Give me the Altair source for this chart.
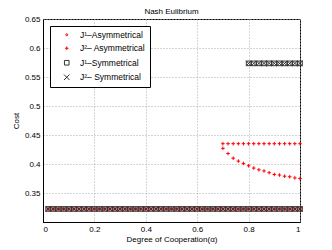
import altair as alt
import pandas as pd

# degree of cooperation grids (step 0.02)
alpha_all = [round(0.02 * i, 2) for i in range(1, 51)]
alpha_asym_hi = [0.70, 0.72, 0.74, 0.76, 0.78, 0.80, 0.82, 0.84,
                 0.86, 0.88, 0.90, 0.92, 0.94, 0.96, 0.98, 1.00]
alpha_sym_hi = [0.80, 0.82, 0.84, 0.86, 0.88, 0.90, 0.92, 0.94, 0.96, 0.98, 1.00]

base_cost = 0.3225
asym_upper = [0.435] * len(alpha_asym_hi)
asym_lower = [0.427, 0.418, 0.410, 0.405, 0.401, 0.397, 0.393, 0.390,
              0.388, 0.385, 0.382, 0.381, 0.379, 0.378, 0.376, 0.375]
sym_upper = [0.5735] * len(alpha_sym_hi)

series = ["J\u00b9\u2013Asymmetrical", "J\u00b2\u2013 Asymmetrical",
          "J\u00b9\u2013Symmetrical", "J\u00b2\u2013 Symmetrical"]
title_text = ["Nash Eulibrium"]

rows = []
for a in alpha_all:
    rows.append((a, base_cost, series[0]))
for a in alpha_all:
    rows.append((a, base_cost, series[1]))
for a, c in zip(alpha_asym_hi, asym_upper):
    rows.append((a, c, series[1]))
for a, c in zip(alpha_asym_hi, asym_lower):
    rows.append((a, c, series[1]))
for a in alpha_all:
    rows.append((a, base_cost, series[2]))
for a, c in zip(alpha_sym_hi, sym_upper):
    rows.append((a, c, series[2]))
for a in alpha_all:
    rows.append((a, base_cost, series[3]))
for a, c in zip(alpha_sym_hi, sym_upper):
    rows.append((a, c, series[3]))

df = pd.DataFrame(rows, columns=["alpha", "cost", "series"])
df["ord"] = range(len(df))

plus = "M-1,0L1,0M0,-1L0,1"
cross = "M-1,-1L1,1M-1,1L1,-1"

points = alt.Chart(df).mark_point(filled=False, strokeWidth=1, opacity=1).encode(
    x=alt.X("alpha:Q", title="Degree of Cooperation(\u03b1)",
            scale=alt.Scale(domain=[0, 1], nice=False),
            axis=alt.Axis(values=[0, 0.2, 0.4, 0.6, 0.8, 1], format="~g")),
    y=alt.Y("cost:Q", title="Cost",
            scale=alt.Scale(domain=[0.3, 0.65], nice=False, zero=False),
            axis=alt.Axis(values=[0.35, 0.4, 0.45, 0.5, 0.55, 0.6, 0.65], format="~g")),
    color=alt.Color("series:N", scale=alt.Scale(domain=series,
                    range=["#ff0000", "#ff0000", "#333333", "#333333"]),
                    legend=alt.Legend(title=None, orient="none", legendX=7, legendY=7)),
    shape=alt.Shape("series:N", scale=alt.Scale(domain=series,
                    range=["circle", plus, "square", cross])),
    size=alt.Size("series:N", scale=alt.Scale(domain=series, range=[4, 30, 16, 14])),
    order="ord:Q",
)

title = alt.Chart(pd.DataFrame({"t": title_text})).mark_text(
    fontSize=8, font="Liberation Sans", color="#000", baseline="alphabetic", align="center"
).encode(text="t:N", x=alt.value(128.5), y=alt.value(-5))

chart = alt.layer(points, title).properties(
    width=257, height=203,
    autosize="none",
    padding={"left": 35, "top": 11, "right": 24, "bottom": 28},
).configure_view(stroke="#000", strokeWidth=1).configure_axis(
    labelFont="Liberation Sans", titleFont="Liberation Sans",
    labelFontSize=8, titleFontSize=8, titleFontWeight="normal",
    labelColor="#000", titleColor="#000",
    domainColor="#000", tickSize=0, labelPadding=3,
    grid=True, gridColor="#aaaaaa", gridDash=[1, 2], gridWidth=1,
).configure_axisX(titlePadding=2).configure_axisY(titlePadding=4).configure_legend(
    labelFont="Liberation Sans", labelFontSize=8.5, labelColor="#000",
    strokeColor="#000", fillColor="#fff", padding=4.5, rowPadding=4.5,
    symbolStrokeWidth=1, symbolOffset=8, labelOffset=9,
)

chart.save("out.html", embed_options={"renderer": "svg", "actions": False})
